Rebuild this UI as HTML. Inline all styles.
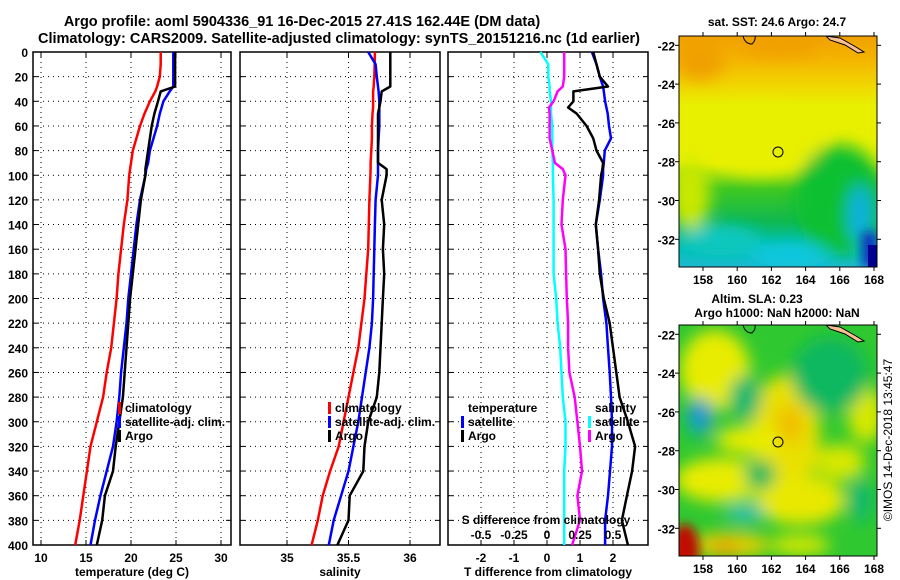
<!DOCTYPE html>
<html><head><meta charset="utf-8"><style>
html,body{margin:0;padding:0;background:#fff;}
svg{display:block;font-family:"Liberation Sans",sans-serif;font-weight:bold;}
</style></head><body>
<svg id="fig" width="900" height="580" viewBox="0 0 900 580" xmlns="http://www.w3.org/2000/svg">
<defs>
<filter id="blur8" x="-50%" y="-50%" width="200%" height="200%"><feGaussianBlur stdDeviation="8"/></filter>
<filter id="blur5" x="-50%" y="-50%" width="200%" height="200%"><feGaussianBlur stdDeviation="5"/></filter>
<clipPath id="clipTop"><rect x="679" y="36" width="198" height="231"/></clipPath>
<clipPath id="clipBot"><rect x="679" y="325" width="198" height="231"/></clipPath>
<linearGradient id="sstGrad" x1="0" y1="0" x2="0" y2="1">
<stop offset="0" stop-color="#f0a000"/><stop offset="0.1" stop-color="#f5b400"/>
<stop offset="0.22" stop-color="#f0d800"/><stop offset="0.3" stop-color="#e8f000"/>
<stop offset="0.55" stop-color="#e8f000"/>
<stop offset="0.66" stop-color="#40c820"/><stop offset="0.8" stop-color="#10b850"/>
<stop offset="0.92" stop-color="#00c0b8"/><stop offset="1" stop-color="#20b8d0"/>
</linearGradient>
</defs>
<g id="titles" font-size="14.5" text-anchor="middle">
<text x="302" y="26">Argo profile: aoml 5904336_91 16-Dec-2015 27.41S 162.44E (DM data)</text>
<text x="339" y="43">Climatology: CARS2009. Satellite-adjusted climatology: synTS_20151216.nc (1d earlier)</text>
</g>
<g id="panels"></g>

<!-- SST map -->
<g>
<text x="777" y="26" font-size="12" text-anchor="middle">sat. SST: 24.6 Argo: 24.7</text>
<g clip-path="url(#clipTop)">
<rect x="679" y="36" width="198" height="231" fill="url(#sstGrad)"/>
<g filter="url(#blur8)">
<ellipse cx="840" cy="200" rx="45" ry="55" fill="#10c030"/>
<ellipse cx="690" cy="195" rx="20" ry="35" fill="#c8e800"/>
<ellipse cx="760" cy="140" rx="60" ry="35" fill="#e8f000"/>
<ellipse cx="720" cy="240" rx="40" ry="15" fill="#10c8c0"/>
<ellipse cx="790" cy="255" rx="40" ry="12" fill="#10c8e0"/>
<ellipse cx="860" cy="215" rx="12" ry="30" fill="#10b0e0"/>
<ellipse cx="780" cy="45" rx="40" ry="12" fill="#f0a000"/>
<ellipse cx="700" cy="60" rx="25" ry="20" fill="#f0a000"/>
</g>
<rect x="862" y="232" width="15" height="35" fill="#1030c0" filter="url(#blur5)"/>
<rect x="868" y="245" width="9" height="22" fill="#000090"/>
<path d="M826,36 L840,38 L856,47 L864,52 L858,53 L845,45 L830,40 Z" fill="#f8c090" stroke="#000" stroke-width="1"/>
<path d="M743,36 Q745,44 752,44 Q756,40 755,36" fill="none" stroke="#000" stroke-width="1"/>
</g>
<rect x="679" y="36" width="198" height="231" fill="none" stroke="#000" stroke-width="1"/>
<circle cx="778" cy="152" r="5" fill="none" stroke="#000" stroke-width="1"/>
</g>

<!-- SLA map -->
<g>
<text x="757" y="303" font-size="12" text-anchor="middle">Altim. SLA: 0.23</text>
<text x="777" y="317" font-size="12" text-anchor="middle">Argo h1000: NaN h2000: NaN</text>
<g clip-path="url(#clipBot)">
<rect x="679" y="325" width="198" height="231" fill="#30c830"/>
<g filter="url(#blur8)">
<ellipse cx="715" cy="370" rx="35" ry="40" fill="#e8ec00"/>
<ellipse cx="785" cy="435" rx="35" ry="60" fill="#e8e000"/>
<ellipse cx="800" cy="500" rx="45" ry="25" fill="#e8e800"/>
<ellipse cx="720" cy="480" rx="45" ry="22" fill="#e8ec00"/>
<ellipse cx="755" cy="440" rx="40" ry="14" fill="#e8ec00"/>
<ellipse cx="866" cy="415" rx="18" ry="28" fill="#d8e800"/>
<ellipse cx="840" cy="462" rx="25" ry="18" fill="#d8e800"/>
<ellipse cx="730" cy="545" rx="40" ry="12" fill="#e8d000"/>
<ellipse cx="800" cy="545" rx="30" ry="10" fill="#d8e800"/>
<ellipse cx="745" cy="398" rx="16" ry="22" fill="#10b870"/>
<ellipse cx="700" cy="417" rx="14" ry="20" fill="#10a8b0"/>
<ellipse cx="700" cy="415" rx="8" ry="10" fill="#2090e0"/>
<ellipse cx="760" cy="475" rx="15" ry="15" fill="#10b860"/>
<ellipse cx="745" cy="513" rx="20" ry="8" fill="#20c0c0"/>
<ellipse cx="860" cy="500" rx="12" ry="22" fill="#10b870"/>
<ellipse cx="830" cy="375" rx="38" ry="38" fill="#10b860"/>
<ellipse cx="790" cy="425" rx="14" ry="20" fill="#f0c000"/>
<ellipse cx="725" cy="548" rx="14" ry="8" fill="#f0a000"/>
</g>
<ellipse cx="685" cy="550" rx="14" ry="26" fill="#c01000" filter="url(#blur5)"/>
<path d="M826,325 L840,327 L856,336 L864,341 L858,342 L845,334 L830,329 Z" fill="#f8c090" stroke="#000" stroke-width="1"/>
<path d="M743,325 Q745,333 752,333 Q756,329 755,325" fill="none" stroke="#000" stroke-width="1"/>
</g>
<rect x="679" y="325" width="198" height="231" fill="none" stroke="#000" stroke-width="1"/>
<circle cx="778" cy="442" r="5" fill="none" stroke="#000" stroke-width="1"/>
</g>
<text x="892" y="440" font-size="12" font-weight="normal" text-anchor="middle" transform="rotate(-90 892 440)">©IMOS 14-Dec-2018 13:45:47</text>
<g id="mapaxes"></g>
</svg>
<script>
// ---- data ----
const depths = [0,10,20,28,32,40,45,50,60,70,80,90,95,100,120,140,160,180,200,220,240,260,280,300,320,340,360,380,400];
const tempClim = [23.3,23.3,23.2,22.9,22.7,22.1,21.8,21.5,21.0,20.6,20.2,20.0,19.9,19.8,19.6,19.2,18.9,18.6,18.4,18.1,17.8,17.3,16.9,16.2,15.5,15.1,14.7,14.3,13.8];
const tempSat = [24.7,24.7,24.7,24.7,24.3,23.6,23.4,23.2,22.9,22.5,22.1,21.9,21.7,21.6,21.0,20.6,20.3,20.0,19.7,19.5,19.2,18.9,18.7,18.4,18.0,17.3,16.6,16.0,15.5];
const tempArgo = [24.9,24.9,24.9,24.9,23.3,23.0,22.8,22.6,22.3,22.1,21.9,21.7,21.6,21.6,21.1,20.8,20.5,20.2,19.9,19.7,19.5,19.3,19.1,18.7,18.3,18.0,17.1,16.8,16.2];
const salClim = [35.715,35.713,35.71,35.705,35.70,35.70,35.70,35.695,35.69,35.69,35.685,35.68,35.68,35.678,35.67,35.665,35.66,35.645,35.63,35.605,35.58,35.54,35.50,35.46,35.42,35.35,35.29,35.25,35.20];
const salSat = [35.66,35.72,35.73,35.74,35.745,35.75,35.75,35.75,35.75,35.745,35.74,35.74,35.74,35.74,35.72,35.715,35.71,35.705,35.70,35.69,35.67,35.64,35.61,35.58,35.54,35.50,35.44,35.38,35.34];
const salArgo = [35.84,35.84,35.84,35.84,35.77,35.76,35.75,35.74,35.74,35.74,35.74,35.74,35.81,35.81,35.77,35.79,35.78,35.79,35.78,35.77,35.76,35.75,35.73,35.66,35.63,35.62,35.51,35.50,35.41];
const dTSat = [1.36,1.5,1.6,1.7,1.72,1.76,1.8,1.84,1.88,1.94,1.75,1.72,1.7,1.7,1.6,1.48,1.55,1.64,1.7,1.8,1.85,1.9,1.94,1.97,1.97,1.91,1.85,1.76,1.76];
const dTArgo = [1.4,1.5,1.6,1.85,0.8,0.8,0.64,0.9,1.2,1.4,1.5,1.7,1.68,1.64,1.58,1.48,1.55,1.6,1.72,1.9,2.0,2.1,2.2,2.45,2.67,2.58,2.42,2.27,2.45];
const dSSat = [-0.05,0.01,0.01,0.02,0.02,0.03,0.03,0.03,0.04,0.04,0.04,0.045,0.045,0.045,0.05,0.05,0.05,0.05,0.07,0.08,0.1,0.11,0.12,0.14,0.14,0.13,0.13,0.13,0.13];
const dSArgo = [0.13,0.13,0.13,0.12,0.08,0.05,0.015,0.02,0.02,0.02,0.04,0.06,0.12,0.14,0.12,0.11,0.14,0.145,0.15,0.16,0.16,0.17,0.21,0.23,0.25,0.265,0.23,0.25,0.19];
const depthTicks = [0,20,40,60,80,100,120,140,160,180,200,220,240,260,280,300,320,340,360,380,400];
const tempTicks = [10,15,20,25,30];
const salTicks = [35,35.5,36];
const salTickLabels = ["35","35.5","36"];
const dTTicks = [-2,-1,0,1,2];
const dSTicks = [-0.5,-0.25,0,0.25,0.5];
const dSTickLabels = ["-0.5","-0.25","0","0.25","0.5"];
const latTicks = [-22,-24,-26,-28,-30,-32];
const lonTicks = [158,160,162,164,166,168];

// ---- axes ----
const NS = "http://www.w3.org/2000/svg";
const Y0 = 52, Y1 = 545;
const yDepth = d => Y0 + d / 400 * (Y1 - Y0);
const xTemp = t => 41 + (t - 10) * 9;
const xSal = s => 287 + (s - 35) * 123;
const xDT = v => 547 + v * 33;
const xDS = v => 547 + v * 132;
const P1 = {x0: 33, x1: 231}, P2 = {x0: 240, x1: 440}, P3 = {x0: 448, x1: 648};
const root = document.getElementById('panels');
function mk(tag, attrs, parent) {
  const e = document.createElementNS(NS, tag);
  for (const k in attrs) e.setAttribute(k, attrs[k]);
  (parent || root).appendChild(e);
  return e;
}
function txt(s, x, y, anchor, size, parent) {
  const t = mk('text', {x: x, y: y, 'text-anchor': anchor, 'font-size': size}, parent);
  t.textContent = s;
  return t;
}
function panel(P, name, xs, ticks, labels, title) {
  const g = mk('g', {});
  
  
  depthTicks.forEach(d => {
    const l = mk('line', {x1: P.x0, x2: P.x1, y1: yDepth(d), y2: yDepth(d), stroke: '#000', 'stroke-width': 1, 'stroke-dasharray': '1,4'}, g);
    
    
    mk('line', {x1: P.x0, x2: P.x0 + 5, y1: yDepth(d), y2: yDepth(d), stroke: '#000'}, g);
    mk('line', {x1: P.x1, x2: P.x1 - 5, y1: yDepth(d), y2: yDepth(d), stroke: '#000'}, g);
  });
  ticks.forEach((t, i) => {
    const x = xs(t);
    const l = mk('line', {x1: x, x2: x, y1: Y0, y2: Y1, stroke: '#000', 'stroke-width': 1, 'stroke-dasharray': '1,4'}, g);
    
    
    mk('line', {x1: x, x2: x, y1: Y1, y2: Y1 - 5, stroke: '#000'}, g);
    mk('line', {x1: x, x2: x, y1: Y0, y2: Y0 + 5, stroke: '#000'}, g);
    const lab = txt(labels[i], x, 562, 'middle', 12, g);
    
    
  });
  const f = mk('rect', {x: P.x0, y: Y0, width: P.x1 - P.x0, height: Y1 - Y0, fill: 'none', stroke: '#000', 'stroke-width': 1.5}, g);
  
  
  const tt = txt(title, (P.x0 + P.x1) / 2, 576, 'middle', 12, g);
  
  
  return g;
}
function series(g, xs, vals, color, name) {
  const pts = depths.map((d, i) => xs(vals[i]).toFixed(1) + ',' + yDepth(d).toFixed(1)).join(' ');
  const pl = mk('polyline', {points: pts, fill: 'none', stroke: color, 'stroke-width': 2.5, 'stroke-linejoin': 'round'}, g);
  
  
}
function legend(g, x, y, items) {
  items.forEach((it, i) => {
    const yy = y + i * 14;
    if (it[1]) mk('rect', {x: x, y: yy - 10, width: 3, height: 12, fill: it[1]}, g);
    const t = txt(it[0], x + 7, yy, 'start', 12, g);
    
    
  });
}

// Panel 1
const g1 = panel(P1, 'temperature-panel', xTemp, tempTicks, tempTicks.map(String), 'temperature (deg C)');
depthTicks.forEach(d => {
  const t = txt(String(d), 28, yDepth(d) + 5, 'end', 12, g1);
  
  
});
series(g1, xTemp, tempClim, '#ff0000', 'temperature-climatology-line');
series(g1, xTemp, tempSat, '#0000ff', 'temperature-satellite-line');
series(g1, xTemp, tempArgo, '#000000', 'temperature-argo-line');
legend(g1, 118, 412, [['climatology', '#ff0000'], ['satellite-adj. clim.', '#0000ff'], ['Argo', '#000']]);

// Panel 2
const g2 = panel(P2, 'salinity-panel', xSal, salTicks, salTickLabels, 'salinity');
series(g2, xSal, salClim, '#ff0000', 'salinity-climatology-line');
series(g2, xSal, salSat, '#0000ff', 'salinity-satellite-line');
series(g2, xSal, salArgo, '#000000', 'salinity-argo-line');
legend(g2, 328, 412, [['climatology', '#ff0000'], ['satellite-adj. clim.', '#0000ff'], ['Argo', '#000']]);

// Panel 3
const g3 = panel(P3, 'difference-panel', xDT, dTTicks, dTTicks.map(String), 'T difference from climatology');
series(g3, xDS, dSSat, '#00ffff', 'salinity-diff-satellite-line');
series(g3, xDS, dSArgo, '#ff00ff', 'salinity-diff-argo-line');
series(g3, xDT, dTSat, '#0000ff', 'temperature-diff-satellite-line');
series(g3, xDT, dTArgo, '#000000', 'temperature-diff-argo-line');
legend(g3, 461, 412, [['temperature', null], ['satellite', '#0000ff'], ['Argo', '#000']]);
legend(g3, 588, 412, [['salinity', null], ['satellite', '#00ffff'], ['Argo', '#ff00ff']]);
const sdt = txt('S difference from climatology', 546, 524, 'middle', 12, g3);


dSTicks.forEach((v, i) => {
  const t = txt(dSTickLabels[i], xDS(v), 539, 'middle', 12, g3);
  
  
});

// map axes
const ma = document.getElementById('mapaxes');
[[36, 267], [325, 556]].forEach(([top, bot], mi) => {
  const yLat = lat => top + 9.3 + (-22 - lat) * 19.4;
  const xLon = lon => 703 + (lon - 158) * 17.1;
  latTicks.forEach(l => {
    const y = yLat(l);
    mk('line', {x1: 675, x2: 679, y1: y, y2: y, stroke: '#000'}, ma);
    mk('line', {x1: 877, x2: 881, y1: y, y2: y, stroke: '#000'}, ma);
    const t = txt(String(l), 675, y + 5, 'end', 12, ma);
    
    
  });
  lonTicks.forEach(l => {
    const x = xLon(l);
    mk('line', {x1: x, x2: x, y1: bot, y2: bot + 4, stroke: '#000'}, ma);
    mk('line', {x1: x, x2: x, y1: top, y2: top - 4, stroke: '#000'}, ma);
    const t = txt(String(l), x, bot + 17, 'middle', 12, ma);
    
    
  });
});
</script>
</body></html>
